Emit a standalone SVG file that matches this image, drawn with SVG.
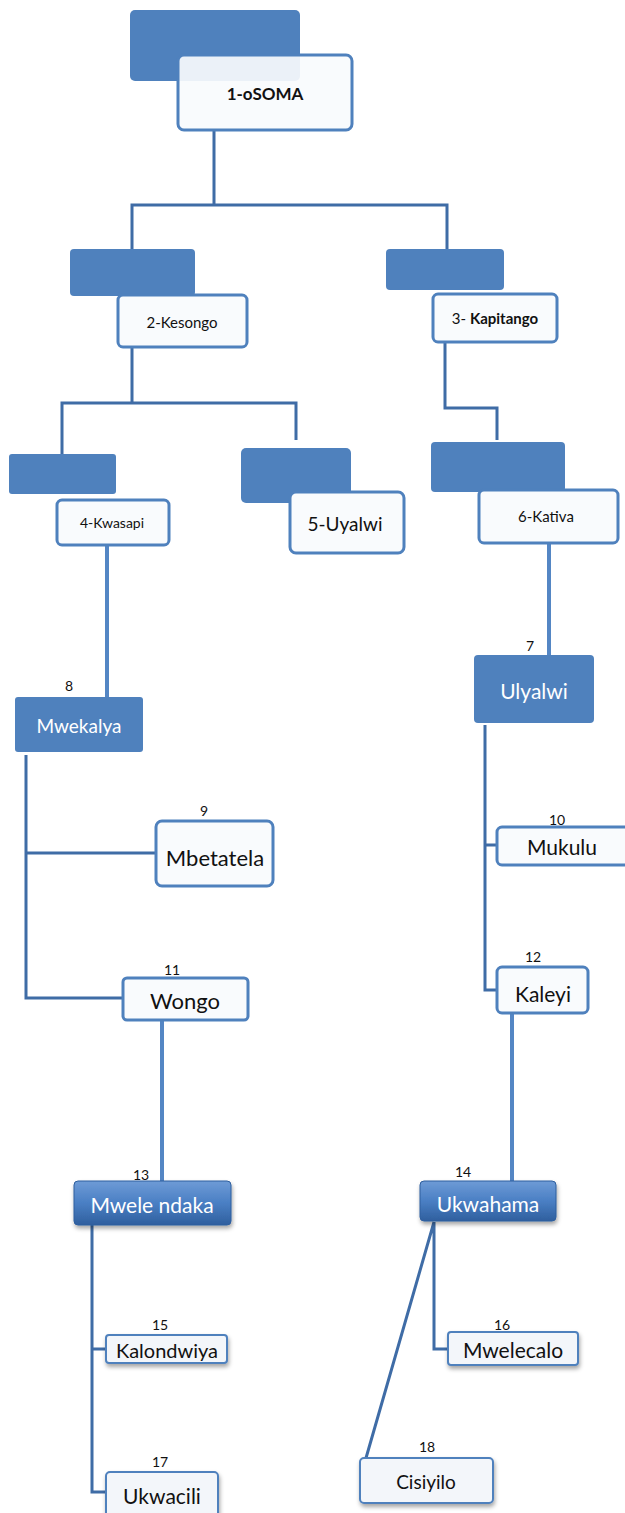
<svg xmlns="http://www.w3.org/2000/svg" width="625" height="1513" viewBox="0 0 625 1513">
<defs>
<linearGradient id="g3d" x1="0" y1="0" x2="0" y2="1">
<stop offset="0" stop-color="#6e9bd6"/>
<stop offset="0.5" stop-color="#4a7fc4"/>
<stop offset="1" stop-color="#2f5f9e"/>
</linearGradient>
<filter id="sh" x="-10%" y="-10%" width="130%" height="140%">
<feDropShadow dx="1" dy="3" stdDeviation="2" flood-color="#000" flood-opacity="0.35"/>
</filter>
</defs>
<style>
.back{fill:#4f81bd}
.box{fill:#f9fbfd;stroke:#4f81bd;stroke-width:3}
.box2{fill:#f3f6fa;stroke:#4f81bd;stroke-width:2}
.solid{fill:#4f81bd}
.t{font-family:Lato,"Open Sans","Liberation Sans",sans-serif;fill:#111;text-anchor:middle;dominant-baseline:central}
.w{fill:#ffffff}
.n{font-family:Lato,"Open Sans","Liberation Sans",sans-serif;font-size:14px;fill:#111;text-anchor:middle}
.c{fill:none;stroke:#3f6ca6;stroke-width:3}
.cl{fill:none;stroke:#5486c4;stroke-width:4}
</style>
<rect width="625" height="1513" fill="#ffffff"/>
<g id="connectors">
<path class="c" d="M214 130 V205 M132 250 V205 H447 V250"/>
<path class="c" d="M132 347 V403 M62 455 V403 H296 V440"/>
<path class="c" d="M445 342 V408 H497 V440"/>
<path class="cl" d="M107 545 V697"/>
<path class="cl" d="M549 543 V655"/>
<path class="c" d="M26 755 V998 H123 M26 853 H156"/>
<path class="c" d="M485 725 V990 H497 M485 845 H497"/>
<path class="cl" d="M512 1013 V1184"/>
<path class="cl" d="M162 1020 V1183"/>
<path class="c" d="M92 1225 V1492 H106 M92 1349 H106"/>
<path class="c" d="M434 1222 V1349 H448 M434 1222 L366 1458"/>
</g>
<g id="node1">
<rect class="back" x="130" y="10" width="170" height="71" rx="5"/>
<rect class="box" x="178" y="55" width="174" height="75" rx="6" fill-opacity="0.92"/>
<text class="t" x="265" y="93" font-size="17" font-weight="bold">1-oSOMA</text>
</g>
<g id="node2">
<rect class="back" x="70" y="249" width="125" height="47" rx="4"/>
<rect class="box" x="118" y="295" width="129" height="52" rx="5"/>
<text class="t" x="182" y="322" font-size="15">2-Kesongo</text>
</g>
<g id="node3">
<rect class="back" x="386" y="249" width="118" height="41" rx="4"/>
<rect class="box" x="433" y="294" width="124" height="48" rx="5"/>
<text class="t" x="495" y="318" font-size="15">3- <tspan font-weight="bold">Kapitango</tspan></text>
</g>
<g id="node4">
<rect class="back" x="9" y="454" width="107" height="40" rx="3"/>
<rect class="box" x="57" y="500" width="112" height="45" rx="5"/>
<text class="t" x="112" y="522" font-size="14">4-Kwasapi</text>
</g>
<g id="node5">
<rect class="back" x="241" y="448" width="110" height="55" rx="5"/>
<rect class="box" x="290" y="492" width="114" height="61" rx="6"/>
<text class="t" x="345" y="523" font-size="19">5-Uyalwi</text>
</g>
<g id="node6">
<rect class="back" x="431" y="442" width="134" height="50" rx="4"/>
<rect class="box" x="479" y="490" width="139" height="53" rx="5"/>
<text class="t" x="546" y="516" font-size="15">6-Kativa</text>
</g>
<g id="node7">
<text class="n" x="530" y="651">7</text>
<rect class="solid" x="474" y="655" width="120" height="68" rx="4"/>
<text class="t w" x="534" y="690" font-size="21">Ulyalwi</text>
</g>
<g id="node8">
<text class="n" x="69" y="691">8</text>
<rect class="solid" x="15" y="697" width="128" height="55" rx="3"/>
<text class="t w" x="79" y="725" font-size="19">Mwekalya</text>
</g>
<g id="node9">
<text class="n" x="204" y="816">9</text>
<rect class="box" x="156" y="821" width="117" height="65" rx="6"/>
<text class="t" x="215" y="857" font-size="22">Mbetatela</text>
</g>
<g id="node10">
<text class="n" x="557" y="825">10</text>
<rect class="box" x="497" y="827" width="133" height="38" rx="5"/>
<text class="t" x="562" y="846" font-size="21">Mukulu</text>
</g>
<g id="node11">
<text class="n" x="172" y="975">11</text>
<rect class="box" x="123" y="978" width="125" height="42" rx="4"/>
<text class="t" x="185" y="1000" font-size="22">Wongo</text>
</g>
<g id="node12">
<text class="n" x="533" y="962">12</text>
<rect class="box" x="497" y="967" width="91" height="46" rx="5"/>
<text class="t" x="543" y="993" font-size="21">Kaleyi</text>
</g>
<g id="node13">
<text class="n" x="141" y="1180">13</text>
<rect x="74" y="1181" width="157" height="44" rx="4" fill="url(#g3d)" stroke="#2f5f9e" filter="url(#sh)"/>
<text class="t w" x="152" y="1204" font-size="21">Mwele ndaka</text>
</g>
<g id="node14">
<text class="n" x="463" y="1177">14</text>
<rect x="420" y="1181" width="136" height="40" rx="4" fill="url(#g3d)" stroke="#2f5f9e" filter="url(#sh)"/>
<text class="t w" x="488" y="1203" font-size="21">Ukwahama</text>
</g>
<g id="node15">
<text class="n" x="160" y="1330">15</text>
<rect class="box2" x="106" y="1335" width="121" height="28" rx="3" filter="url(#sh)"/>
<text class="t" x="167" y="1350" font-size="20">Kalondwiya</text>
</g>
<g id="node16">
<text class="n" x="502" y="1330">16</text>
<rect class="box2" x="448" y="1332" width="130" height="33" rx="3" filter="url(#sh)"/>
<text class="t" x="513" y="1349" font-size="21">Mwelecalo</text>
</g>
<g id="node17">
<text class="n" x="160" y="1467">17</text>
<rect class="box2" x="106" y="1472" width="112" height="45" rx="4" filter="url(#sh)"/>
<text class="t" x="162" y="1495" font-size="21">Ukwacili</text>
</g>
<g id="node18">
<text class="n" x="427" y="1452">18</text>
<rect class="box2" x="360" y="1458" width="133" height="45" rx="4" filter="url(#sh)"/>
<text class="t" x="426" y="1481" font-size="19">Cisiyilo</text>
</g>
</svg>
